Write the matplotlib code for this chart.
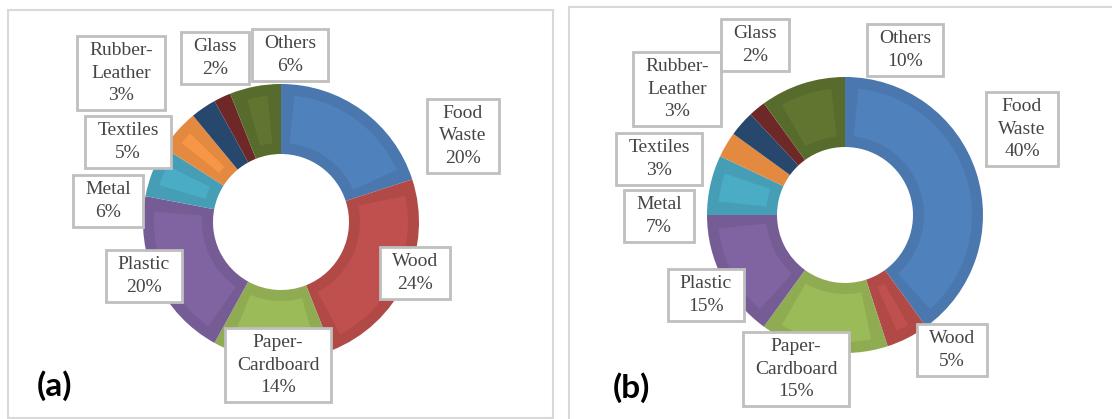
import numpy as np
import matplotlib.pyplot as plt
from matplotlib.patches import Wedge, Rectangle
from matplotlib import colors as mcolors

W, H = 1112, 419

# categories, clockwise from 12 o'clock
labels = ['Food\nWaste', 'Wood', 'Paper-\nCardboard', 'Plastic', 'Metal',
          'Textiles', 'Rubber-\nLeather', 'Glass', 'Others']
share_a = [20, 24, 14, 20, 6, 5, 3, 2, 6]
share_b = [40, 5, 15, 15, 7, 3, 3, 2, 10]

colors = ['#4F81BD', '#C0504D', '#9BBB59', '#8064A2', '#4BACC6',
          '#F79646', '#2C4D75', '#772C2A', '#5F7530']

# label box centres in pixels (x, y from top)
pos_a = [(463, 136), (415, 273), (278, 365), (144, 276), (108, 201),
         (128, 142), (121, 73), (215, 58), (290, 55)]
pos_b = [(1022, 129), (952, 350), (796, 369), (706, 295), (659, 216),
         (659, 159), (677, 89), (755, 45), (905, 50)]

R_OUT, R_IN = 138, 68
BEVEL = 11


def darker(c, f=0.92):
    r, g, b = mcolors.to_rgb(c)
    return (r * f, g * f, b * f)


fig = plt.figure(figsize=(W / 100, H / 100), dpi=100)
ax = fig.add_axes([0, 0, 1, 1])


def donut(values, cx, cy):
    cy = H - cy
    wedges, _ = ax.pie(values, radius=R_OUT, center=(cx, cy), startangle=90,
                       counterclock=False, colors=[darker(c) for c in colors],
                       wedgeprops=dict(width=R_OUT - R_IN, edgecolor='none'))
    # lighter inner face, gives the bevel look
    r1, r0 = R_OUT - BEVEL, R_IN + BEVEL
    rm = (r1 + r0) / 2
    dt = np.degrees(BEVEL / rm)
    for w, c in zip(wedges, colors):
        t1, t2 = w.theta1 + dt, w.theta2 - dt
        if t2 - t1 < 1:
            continue
        ax.add_patch(Wedge((cx, cy), r1, t1, t2, width=r1 - r0,
                           facecolor=c, edgecolor='none', zorder=2))


donut(share_a, 281, 222)
donut(share_b, 845, 215)

ax.set_xlim(0, W)
ax.set_ylim(0, H)
ax.set_aspect('auto')
ax.set_axis_off()

# panel frames
ax.add_patch(Rectangle((8, H - 418), 545, 408, fill=False,
                       edgecolor='#D9D9D9', lw=1.5, zorder=1))
ax.add_patch(Rectangle((569, H - 430), 560, 423, fill=False,
                       edgecolor='#D9D9D9', lw=1.5, zorder=1))

texts = []
for vals, pos in [(share_a, pos_a), (share_b, pos_b)]:
    for lab, v, (x, y) in zip(labels, vals, pos):
        t = ax.text(x, H - y, f'{lab}\n{v}%', ha='center', va='center',
                    multialignment='center', fontsize=14,
                    family='Liberation Serif', color='#454545',
                    linespacing=1.45, zorder=6)
        texts.append(t)

ax.text(54, H - 386, '(a)', ha='center', va='center', fontsize=24,
        family='Lato', fontweight='bold', color='black')
ax.text(631, H - 388, '(b)', ha='center', va='center', fontsize=24,
        family='Lato', fontweight='bold', color='black')

# white boxes round the labels
fig.canvas.draw()
rend = fig.canvas.get_renderer()
inv = ax.transData.inverted()
for t in texts:
    bb = t.get_window_extent(rend)
    (x0, y0), (x1, y1) = inv.transform([(bb.x0, bb.y0), (bb.x1, bb.y1)])
    ax.add_patch(Rectangle((x0 - 12, y0 - 6), (x1 - x0) + 24, (y1 - y0) + 12,
                           facecolor='white', edgecolor='#BFBFBF', lw=2,
                           zorder=5))

fig.savefig('out.png', dpi=100)
